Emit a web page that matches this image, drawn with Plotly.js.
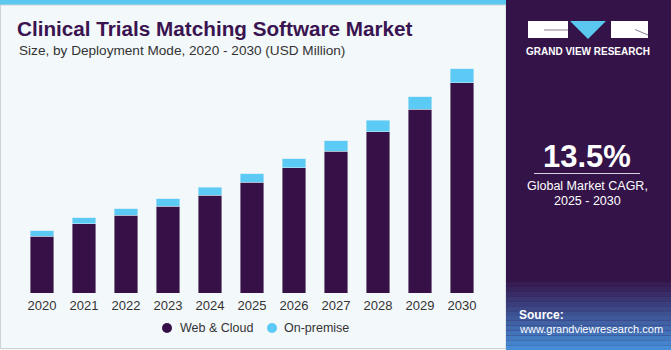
<!DOCTYPE html>
<html><head><meta charset="utf-8">
<script src="https://cdn.plot.ly/plotly-3.0.1.min.js"></script>
<style>html,body{margin:0;padding:0;background:#f3f8fb;}#chart{width:671px;height:350px;}</style>
</head><body><div id="chart"></div>
<script>
const years = ['2020','2021','2022','2023','2024','2025','2026','2027','2028','2029','2030'];
const webCloud = [100.3,122.3,137.5,153.5,172.9,195.8,221.5,250.9,285.8,325.3,372.1];
const onPremise = [9.6,11.1,11.9,13.6,14.2,15.2,16.5,19.0,20.0,22.5,24.8];
const seriesNames = ['Web & Cloud','On-premise'];
const calloutYear = '2024';
const calloutText = '$187.1M';
const cagrText = '13.5%';

const W=671,H=350, L=21, R=188, T=60, B=57;
const pw=W-L-R, ph=H-T-B;
const px=x=>(x-L)/pw, py=y=>(H-B-y)/ph;
const purple='#371047', blue='#5bcbf5', panel='#341349';

const shapes=[];
shapes.push({type:'rect',xref:'paper',yref:'paper',x0:px(0),x1:px(506),y0:py(5),y1:py(0),fillcolor:'#5bc8f0',line:{width:0},layer:'below'});
shapes.push({type:'rect',xref:'paper',yref:'paper',x0:px(0.5),x1:px(506),y0:py(348.5),y1:py(5),fillcolor:'rgba(0,0,0,0)',line:{width:1,color:'#cfd3d8'},layer:'below'});
shapes.push({type:'rect',xref:'paper',yref:'paper',x0:px(506),x1:px(671),y0:py(350),y1:py(0),fillcolor:panel,line:{width:0}});
const steps=14, g0=282, g1=350;
for(let i=0;i<steps;i++){
  const t=(i+1)/steps;
  const r=Math.round(52+(70-52)*t), g=Math.round(19+(140-19)*t), b=Math.round(73+(215-73)*t);
  shapes.push({type:'rect',xref:'paper',yref:'paper',x0:px(506),x1:px(671),
    y0:py(g0+(g1-g0)*(i+1)/steps),y1:py(g0+(g1-g0)*i/steps),fillcolor:`rgb(${r},${g},${b})`,line:{width:0}});
}
shapes.push({type:'rect',xref:'paper',yref:'paper',x0:px(528),x1:px(568),y0:py(38),y1:py(21),fillcolor:'#ffffff',line:{width:0}});
shapes.push({type:'path',xref:'paper',yref:'paper',path:`M ${px(570)} ${py(21)} L ${px(606)} ${py(21)} L ${px(588)} ${py(39)} Z`,fillcolor:'#5bc8f0',line:{width:0}});
shapes.push({type:'rect',xref:'paper',yref:'paper',x0:px(611),x1:px(648),y0:py(38),y1:py(21),fillcolor:'#ffffff',line:{width:0}});
shapes.push({type:'line',xref:'paper',yref:'paper',x0:px(544),x1:px(568),y0:py(30),y1:py(30),line:{width:1,color:'#8a7a98'}});
shapes.push({type:'line',xref:'paper',yref:'paper',x0:px(635),x1:px(648),y0:py(29.5),y1:py(35),line:{width:1,color:'#8a7a98'}});
shapes.push({type:'line',xref:'paper',yref:'paper',x0:px(534),x1:px(640),y0:py(173.5),y1:py(173.5),line:{width:1,color:'#d8d0e0'}});
// legend markers
const legendItems=[{name:seriesNames[0],color:purple,mx:167,tx:178},{name:seriesNames[1],color:blue,mx:272,tx:282}];
legendItems.forEach(it=>{
  shapes.push({type:'circle',xref:'paper',yref:'paper',x0:px(it.mx-5),x1:px(it.mx+5),y0:py(333),y1:py(323),fillcolor:it.color,line:{width:0}});
});

const F='Liberation Sans, Arial';
const ann=[
  {xref:'paper',yref:'paper',x:px(17),y:py(50),xanchor:'left',yanchor:'middle',showarrow:false,
   text:'Size, by Deployment Mode, 2020 - 2030 (USD Million)',font:{family:F,size:13.6,color:'#333'}},
  {x:calloutYear,y:webCloud[years.indexOf(calloutYear)]+onPremise[years.indexOf(calloutYear)],yshift:13,showarrow:false,
   xanchor:'center',yanchor:'middle',text:calloutText,font:{family:F,size:13,color:'#333'}},
  {xref:'paper',yref:'paper',x:px(588),y:py(51),xanchor:'center',yanchor:'middle',showarrow:false,text:'<b>GRAND VIEW RESEARCH</b>',
   font:{family:F,size:10,color:'#ffffff'}},
  {xref:'paper',yref:'paper',x:px(587),y:py(156),xanchor:'center',yanchor:'middle',showarrow:false,text:'<b>'+cagrText+'</b>',
   font:{family:F,size:31,color:'#ffffff'}},
  {xref:'paper',yref:'paper',x:px(587),y:py(186),xanchor:'center',yanchor:'middle',showarrow:false,text:'Global Market CAGR,',
   font:{family:F,size:12.5,color:'#ffffff'}},
  {xref:'paper',yref:'paper',x:px(587),y:py(201),xanchor:'center',yanchor:'middle',showarrow:false,text:'2025 - 2030',
   font:{family:F,size:12.5,color:'#ffffff'}},
  {xref:'paper',yref:'paper',x:px(517),y:py(315),xanchor:'left',yanchor:'middle',showarrow:false,text:'<b>Source:</b>',
   font:{family:F,size:12,color:'#ffffff'}},
  {xref:'paper',yref:'paper',x:px(517),y:py(329),xanchor:'left',yanchor:'middle',showarrow:false,text:'www.grandviewresearch.com',
   font:{family:F,size:11,color:'#ffffff'}}
];
legendItems.forEach(it=>{
  ann.push({xref:'paper',yref:'paper',x:px(it.tx),y:py(328),xanchor:'left',yanchor:'middle',showarrow:false,text:it.name,
    font:{family:F,size:12.5,color:'#333'}});
});

const data=[
  {type:'bar',x:years,y:webCloud,name:seriesNames[0],marker:{color:purple,line:{width:0.6,color:'#b9b2c2'}},hoverinfo:'skip'},
  {type:'bar',x:years,y:onPremise,name:seriesNames[1],marker:{color:blue,line:{width:0.6,color:'#c8e8f5'}},hoverinfo:'skip'}
];

const layout={
  width:W,height:H,margin:{l:L,r:R,t:T,b:B,pad:0},
  paper_bgcolor:'#f3f8fb',plot_bgcolor:'rgba(0,0,0,0)',
  barmode:'stack',bargap:0.45,showlegend:false,
  title:{text:'<b>Clinical Trials Matching Software Market</b>',xref:'container',yref:'container',x:17/W,xanchor:'left',
    y:1-29/H,yanchor:'middle',font:{family:F,size:20.7,color:'#3a1450'}},
  xaxis:{type:'category',categoryorder:'array',categoryarray:years,range:[-0.5,10.5],showgrid:false,zeroline:false,showline:false,ticks:'',
    ticklabelstandoff:3,tickfont:{family:F,size:13,color:'#333'},fixedrange:true},
  yaxis:{range:[0,412.8],visible:false,showgrid:false,zeroline:false,fixedrange:true},
  shapes:shapes,annotations:ann
};
Plotly.newPlot('chart',data,layout,{displayModeBar:false,staticPlot:true});
</script></body></html>
